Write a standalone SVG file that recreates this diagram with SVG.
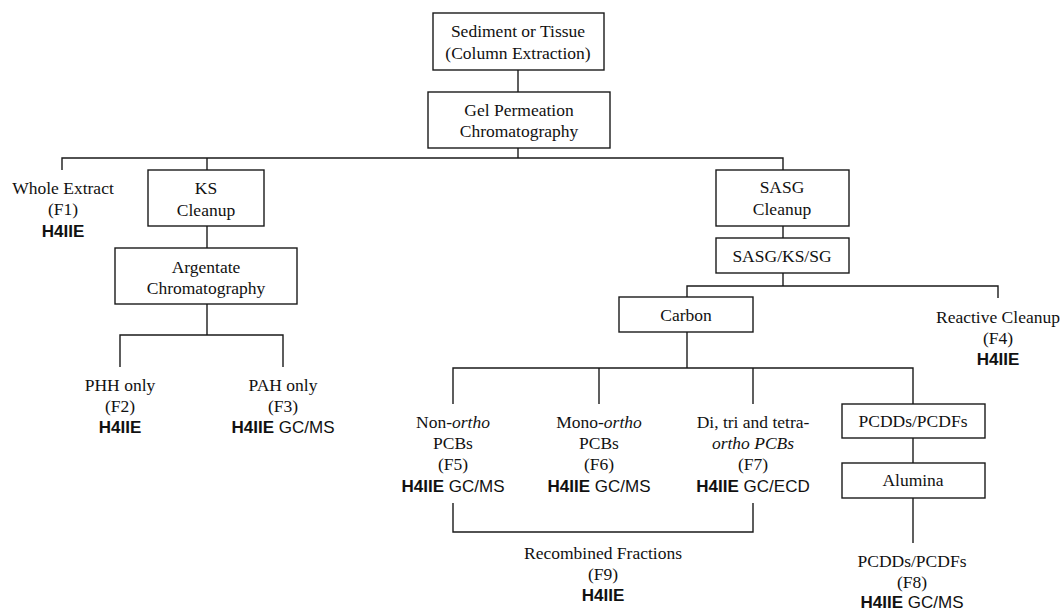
<svg xmlns="http://www.w3.org/2000/svg" width="1062" height="610" viewBox="0 0 1062 610">
<style>
.bg{fill:#ffffff}
.box{fill:#ffffff;stroke:#1a1a1a;stroke-width:1.4}
.ln{fill:none;stroke:#1a1a1a;stroke-width:1.4}
.t{font-family:"Liberation Serif","Times New Roman",serif;font-size:17.5px;fill:#111;text-anchor:middle}
.i{font-style:italic}
.b{font-family:"Liberation Sans",Arial,sans-serif;font-weight:bold;font-size:17px}
.s{font-family:"Liberation Sans",Arial,sans-serif;font-size:17px}
</style>
<rect class="bg" x="0" y="0" width="1062" height="610"/>
<g id="connectors">
<path class="ln" d="M518,70 V92"/>
<path class="ln" d="M518,148 V158"/>
<path class="ln" d="M62,170 V158 H783 V170"/>
<path class="ln" d="M207,158 V170"/>
<path class="ln" d="M207,226 V248"/>
<path class="ln" d="M207,304 V335"/>
<path class="ln" d="M120,367 V335 H283 V367"/>
<path class="ln" d="M783,226 V238"/>
<path class="ln" d="M783,273 V286"/>
<path class="ln" d="M687,297 V286 H998 V298"/>
<path class="ln" d="M687,332 V368"/>
<path class="ln" d="M453,404 V368 H913 V404"/>
<path class="ln" d="M599,368 V404"/>
<path class="ln" d="M753,368 V404"/>
<path class="ln" d="M913,438 V463"/>
<path class="ln" d="M913,498 V543"/>
<path class="ln" d="M453,503 V532 H753 V503"/>
</g>
<g id="sediment">
<rect class="box" x="433" y="13" width="171" height="57"/>
<text class="t" x="518" y="37">Sediment or Tissue</text>
<text class="t" x="518" y="59">(Column Extraction)</text>
</g>
<g id="gpc">
<rect class="box" x="428" y="92" width="182" height="56"/>
<text class="t" x="519" y="116">Gel Permeation</text>
<text class="t" x="519" y="137">Chromatography</text>
</g>
<g id="f1">
<text class="t" x="63" y="194">Whole Extract</text>
<text class="t" x="63" y="215">(F1)</text>
<text class="t b" x="63" y="237">H4IIE</text>
</g>
<g id="ks">
<rect class="box" x="148" y="170" width="116" height="56"/>
<text class="t" x="206" y="194">KS</text>
<text class="t" x="206" y="216">Cleanup</text>
</g>
<g id="argentate">
<rect class="box" x="115" y="248" width="182" height="56"/>
<text class="t" x="206" y="273">Argentate</text>
<text class="t" x="206" y="294">Chromatography</text>
</g>
<g id="f2">
<text class="t" x="120" y="391">PHH only</text>
<text class="t" x="120" y="412">(F2)</text>
<text class="t b" x="120" y="433">H4IIE</text>
</g>
<g id="f3">
<text class="t" x="283" y="391">PAH only</text>
<text class="t" x="283" y="412">(F3)</text>
<text class="t" x="283" y="433"><tspan class="b">H4IIE</tspan><tspan class="s"> GC/MS</tspan></text>
</g>
<g id="sasg">
<rect class="box" x="716" y="170" width="133" height="56"/>
<text class="t" x="782" y="193">SASG</text>
<text class="t" x="782" y="215">Cleanup</text>
</g>
<g id="sasgkssg">
<rect class="box" x="716" y="238" width="133" height="35"/>
<text class="t" x="782" y="262">SASG/KS/SG</text>
</g>
<g id="f4">
<text class="t" x="998" y="323">Reactive Cleanup</text>
<text class="t" x="998" y="344">(F4)</text>
<text class="t b" x="998" y="365">H4IIE</text>
</g>
<g id="carbon">
<rect class="box" x="619" y="297" width="134" height="35"/>
<text class="t" x="686" y="321">Carbon</text>
</g>
<g id="f5">
<text class="t" x="453" y="428">Non-<tspan class="i">ortho</tspan></text>
<text class="t" x="453" y="449">PCBs</text>
<text class="t" x="453" y="470">(F5)</text>
<text class="t" x="453" y="492"><tspan class="b">H4IIE</tspan><tspan class="s"> GC/MS</tspan></text>
</g>
<g id="f6">
<text class="t" x="599" y="428">Mono-<tspan class="i">ortho</tspan></text>
<text class="t" x="599" y="449">PCBs</text>
<text class="t" x="599" y="470">(F6)</text>
<text class="t" x="599" y="492"><tspan class="b">H4IIE</tspan><tspan class="s"> GC/MS</tspan></text>
</g>
<g id="f7">
<text class="t" x="753" y="428">Di, tri and tetra-</text>
<text class="t i" x="753" y="449">ortho PCBs</text>
<text class="t" x="753" y="470">(F7)</text>
<text class="t" x="753" y="492"><tspan class="b">H4IIE</tspan><tspan class="s"> GC/ECD</tspan></text>
</g>
<g id="pcdds">
<rect class="box" x="842" y="404" width="143" height="34"/>
<text class="t" x="913" y="427">PCDDs/PCDFs</text>
</g>
<g id="alumina">
<rect class="box" x="842" y="463" width="143" height="35"/>
<text class="t" x="913" y="486">Alumina</text>
</g>
<g id="f8">
<text class="t" x="912" y="567">PCDDs/PCDFs</text>
<text class="t" x="912" y="588">(F8)</text>
<text class="t" x="912" y="608"><tspan class="b">H4IIE</tspan><tspan class="s"> GC/MS</tspan></text>
</g>
<g id="f9">
<text class="t" x="603" y="559">Recombined Fractions</text>
<text class="t" x="603" y="580">(F9)</text>
<text class="t b" x="603" y="601">H4IIE</text>
</g>
</svg>
